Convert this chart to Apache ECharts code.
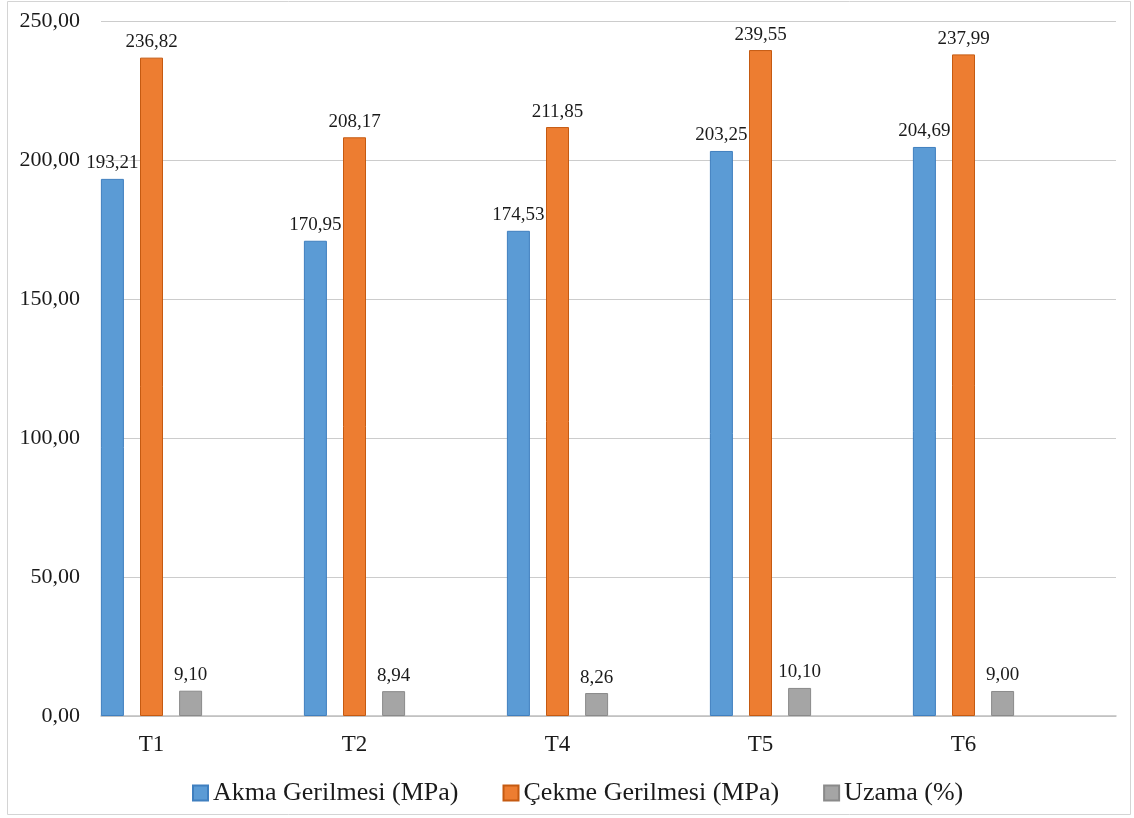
<!DOCTYPE html>
<html>
<head>
<meta charset="utf-8">
<script src="https://cdn.jsdelivr.net/npm/echarts@6/dist/echarts.min.js"></script>
<style>
  html, body { margin: 0; padding: 0; background: #ffffff; }
  #chart { width: 1134px; height: 818px; }
</style>
</head>
<body>
<div id="chart"></div>
<script>
// Sample names and measured mechanical properties
const categories = ['T1', 'T2', 'T4', 'T5', 'T6'];
const akmaGerilmesi = [193.21, 170.95, 174.53, 203.25, 204.69];
const cekmeGerilmesi = [236.82, 208.17, 211.85, 239.55, 237.99];
const uzama = [9.10, 8.94, 8.26, 10.10, 9.00];
const yTicks = [0, 50, 100, 150, 200, 250];

const seriesNames = ['Akma Gerilmesi (MPa)', 'Çekme Gerilmesi (MPa)', 'Uzama (%)'];

const FONT = "'Liberation Serif', 'Times New Roman', serif";
const fmt = v => Number(v).toFixed(2).replace('.', ',');

const chart = echarts.init(document.getElementById('chart'), null, { renderer: 'canvas' });

function barSeries(name, data, color, border) {
  return {
    name: name,
    type: 'bar',
    xAxisIndex: 0,
    yAxisIndex: 0,
    data: data,
    barWidth: 23,
    barGap: '70%',
    itemStyle: { color: color, borderColor: border, borderWidth: 1 },
    label: {
      show: true,
      position: 'top',
      distance: 6,
      formatter: p => fmt(p.value),
      fontFamily: FONT,
      fontSize: 19,
      color: '#1a1a1a'
    }
  };
}

chart.setOption({
  animation: false,
  backgroundColor: '#ffffff',
  textStyle: { fontFamily: FONT },
  graphic: [{
    type: 'rect',
    shape: { x: 7.5, y: 1.5, width: 1123, height: 813 },
    style: { fill: 'none', stroke: '#d4d4d4', lineWidth: 1 },
    silent: true,
    z: -1
  }],
  grid: [
    // bar area
    { left: 50, top: 21, width: 1015, height: 695 },
    // gridline / value-axis frame
    { left: 101, top: 21, width: 1015, height: 695 }
  ],
  legend: {
    data: seriesNames,
    left: 187,
    top: 775,
    icon: 'rect',
    itemWidth: 15,
    itemHeight: 15,
    itemGap: 44,
    textStyle: { fontFamily: FONT, fontSize: 26, color: '#1a1a1a' }
  },
  xAxis: [
    {
      type: 'category',
      gridIndex: 0,
      data: categories,
      axisLine: { show: false },
      axisTick: { show: false },
      axisLabel: { fontFamily: FONT, fontSize: 23, color: '#1a1a1a', margin: 17 }
    },
    {
      type: 'value',
      gridIndex: 1,
      min: 0,
      max: 1,
      axisLine: { show: true, lineStyle: { color: '#bfbfbf', width: 1.5 } },
      axisTick: { show: false },
      axisLabel: { show: false },
      splitLine: { show: false }
    }
  ],
  yAxis: [
    {
      type: 'value',
      gridIndex: 0,
      min: yTicks[0],
      max: yTicks[yTicks.length - 1],
      interval: yTicks[1] - yTicks[0],
      show: false,
      splitLine: { show: false }
    },
    {
      type: 'value',
      gridIndex: 1,
      min: yTicks[0],
      max: yTicks[yTicks.length - 1],
      interval: yTicks[1] - yTicks[0],
      axisLine: { show: false },
      axisTick: { show: false },
      axisLabel: {
        formatter: v => fmt(v),
        fontFamily: FONT,
        fontSize: 22,
        color: '#1a1a1a',
        margin: 21
      },
      splitLine: { show: true, lineStyle: { color: '#cccccc', width: 1.2 } }
    }
  ],
  series: [
    barSeries(seriesNames[0], akmaGerilmesi, '#5b9bd5', '#3f7fbf'),
    barSeries(seriesNames[1], cekmeGerilmesi, '#ed7d31', '#c55a11'),
    barSeries(seriesNames[2], uzama, '#a5a5a5', '#8a8a8a')
  ]
});
</script>
</body>
</html>
